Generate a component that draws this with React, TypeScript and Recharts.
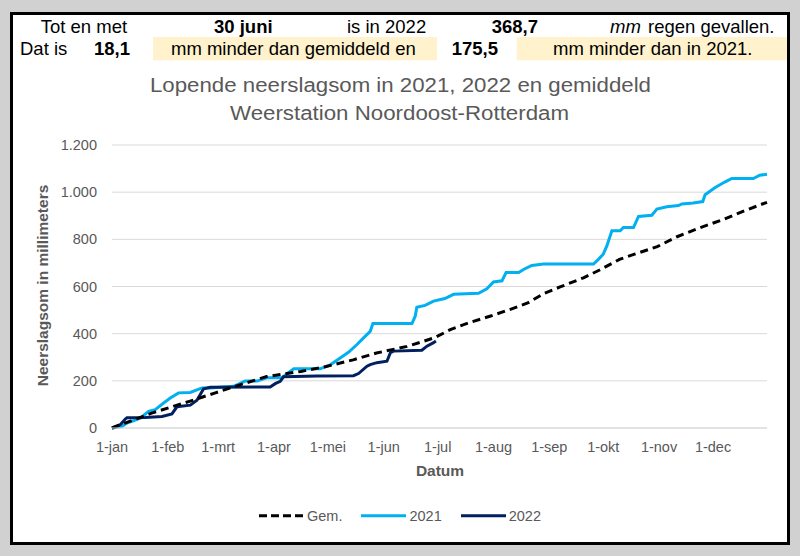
import { LineChart, Line, XAxis, YAxis, CartesianGrid } from "recharts";

const FONT = "'Liberation Sans', Arial, sans-serif";

// x-as: dag van het jaar (0 = 1 januari)
const monthTicks = [0, 31, 59, 90, 120, 151, 181, 212, 243, 273, 304, 334];
const monthLabels = ["1-jan", "1-feb", "1-mrt", "1-apr", "1-mei", "1-jun", "1-jul", "1-aug", "1-sep", "1-okt", "1-nov", "1-dec"];
const yTicks = [0, 200, 400, 600, 800, 1000, 1200];

// gemiddelde lopende som
const gemDays = [0, 22, 43, 57, 71, 86, 105, 119, 134, 147, 164, 179, 188, 199, 210, 221, 231, 240, 249, 262, 271, 282, 290, 303, 314, 327, 340, 351, 364];
const gemValues = [0, 63, 113, 148, 183, 218, 240, 261, 289, 318, 346, 382, 417, 448, 474, 502, 530, 570, 598, 637, 670, 715, 736, 769, 811, 850, 885, 920, 957];

// 2021
const days2021 = [0, 5.6, 8.3, 11, 15.7, 20.3, 24, 28.7, 32.4, 37, 43.5, 50, 54.6, 67.6, 74, 80.6, 86, 94.4, 101, 115.7, 121.3, 126.8, 131.4, 136, 139.8, 143.5, 145, 166.7, 168.5, 169.4, 174, 178.7, 185, 189.8, 203.7, 208.3, 212, 216.7, 219, 226, 228.7, 233.3, 239.8, 267.6, 270.3, 273, 275, 277.8, 282.4, 284.2, 289.8, 292.6, 300, 302.8, 308.3, 314.8, 316.7, 323, 328.3, 329.6, 335.2, 340.8, 344.4, 356.4, 360, 364];
const values2021 = [0, 7, 21, 28, 42, 71, 78, 106, 127, 149, 151, 170, 170, 177, 199, 199, 213, 213, 251, 251, 268, 297, 321, 353, 382, 410, 443, 443, 474, 512, 520, 538, 549, 567, 571, 590, 619, 624, 659, 659, 672, 689, 695, 695, 715, 737, 772, 836, 836, 850, 850, 897, 902, 928, 938, 943, 950, 954, 960, 989, 1020, 1044, 1058, 1058, 1072, 1076];

// 2022 (t/m 30 juni)
const days2022 = [0, 4.6, 7.4, 8.3, 18.5, 27.8, 33.3, 36.1, 43.5, 47.2, 50.9, 54.6, 87.9, 90.7, 93.5, 95.3, 113.9, 134.2, 137, 141.7, 143.5, 147.2, 152.8, 154.7, 156.4, 172.2, 175, 178.7, 180];
const values2022 = [0, 14, 38, 43, 45, 49, 60, 90, 97, 118, 166, 173, 174, 188, 198, 217, 220, 222, 231, 262, 269, 277, 283, 319, 326, 330, 347, 362, 368.7];

const totDatum = "30 juni";
const som2022 = "368,7";
const verschilGem = "18,1";
const verschil2021 = "175,5";

const toPoints = (days: number[], values: number[]) => days.map((d, i) => ({ day: d, mm: values[i] }));

const series = [
  { name: "2021", data: toPoints(days2021, values2021), color: "#00b0f0", dash: undefined as string | undefined },
  { name: "2022", data: toPoints(days2022, values2022), color: "#002060", dash: undefined as string | undefined },
  { name: "Gem.", data: toPoints(gemDays, gemValues), color: "#000000", dash: "8 5" },
];
const legendOrder = ["Gem.", "2021", "2022"];

const formatNl = (v: number) =>
  v >= 1000 ? `${Math.floor(v / 1000)}.${String(v % 1000).padStart(3, "0")}` : String(v);

const axisText = { fill: "#595959", fontSize: 14.5, fontFamily: FONT };

function Legend() {
  return (
    <div style={{ position: "absolute", left: 0, top: 506, width: 800, display: "flex", justifyContent: "center", gap: 19 }}>
      {legendOrder.map((name) => {
        const s = series.find((x) => x.name === name)!;
        return (
          <div key={name} style={{ display: "flex", alignItems: "flex-start", height: 20 }}>
            <svg width={45} height={20}>
              <line x1={0} y1={9.7} x2={45} y2={9.7} stroke={s.color} strokeWidth={3} strokeDasharray={s.dash ? "8 4" : undefined} />
            </svg>
            <span style={{ marginLeft: 3, fontFamily: FONT, fontSize: 14.5, lineHeight: "20px", color: "#595959" }}>{name}</span>
          </div>
        );
      })}
    </div>
  );
}

export default function App() {
  const hdr = { fontFamily: FONT, fontSize: 18.5, fill: "#000" };
  return (
    <div style={{ position: "absolute", left: 0, top: 0, width: 800, height: 556, background: "#d1d1d1", overflow: "hidden" }}>
      <div style={{ position: "absolute", left: 10, top: 12, width: 780, height: 533, border: "3px solid #000", boxSizing: "border-box", background: "#fff" }} />
      <svg width={800} height={556} style={{ position: "absolute", left: 0, top: 0 }}>
        <rect x={153} y={37} width={284} height={23.3} fill="#fff2cc" />
        <rect x={516.7} y={37} width={270.3} height={23.3} fill="#fff2cc" />
        <text x={40.7} y={33} {...hdr}>Tot en met</text>
        <text x={214} y={33} {...hdr} fontWeight="bold">{totDatum}</text>
        <text x={347} y={33} {...hdr}>is in 2022</text>
        <text x={491.7} y={33} {...hdr} fontWeight="bold">{som2022}</text>
        <text x={610} y={33} {...hdr} fontStyle="italic">mm</text>
        <text x={648} y={33} {...hdr}>regen gevallen.</text>
        <text x={20} y={54.7} {...hdr}>Dat is</text>
        <text x={94} y={54.7} {...hdr} fontWeight="bold">{verschilGem}</text>
        <text x={171} y={54.7} {...hdr}>mm minder dan gemiddeld en</text>
        <text x={451.7} y={54.7} {...hdr} fontWeight="bold">{verschil2021}</text>
        <text x={553} y={54.7} {...hdr}>mm minder dan in 2021.</text>

        <text x={150} y={91.7} fontFamily={FONT} fontSize={19.5} fill="#595959" textLength={501} lengthAdjust="spacingAndGlyphs">
          Lopende neerslagsom in 2021, 2022 en gemiddeld
        </text>
        <text x={230} y={120} fontFamily={FONT} fontSize={19.5} fill="#595959" textLength={339} lengthAdjust="spacingAndGlyphs">
          Weerstation Noordoost-Rotterdam
        </text>

        <text transform="translate(48.4,285.5) rotate(-90)" textAnchor="middle" fontFamily={FONT} fontSize={15.5} fontWeight="bold" fill="#595959">
          Neerslagsom in millimeters
        </text>
        <text x={440} y={475.5} textAnchor="middle" fontFamily={FONT} fontSize={15.5} fontWeight="bold" fill="#595959">
          Datum
        </text>
      </svg>
      <div style={{ position: "absolute", left: 0, top: 0 }}>
        <LineChart width={800} height={556} margin={{ top: 145, right: 33, bottom: 98, left: 52 }}>
          <CartesianGrid vertical={false} stroke="#d9d9d9" />
          <XAxis
            type="number"
            dataKey="day"
            domain={[0, 364]}
            ticks={monthTicks}
            interval={0}
            tickFormatter={(v: number) => monthLabels[monthTicks.indexOf(v)]}
            tickLine={false}
            tickSize={0}
            tickMargin={14}
            axisLine={{ stroke: "#d9d9d9" }}
            tick={axisText}
            height={30}
          />
          <YAxis
            type="number"
            domain={[0, 1200]}
            ticks={yTicks}
            interval={0}
            tickFormatter={formatNl}
            axisLine={false}
            tickLine={false}
            tickSize={0}
            tickMargin={15}
            width={60}
            tick={axisText}
          />
          {series.map((s) => (
            <Line
              key={s.name}
              name={s.name}
              data={s.data}
              dataKey="mm"
              type="linear"
              stroke={s.color}
              strokeWidth={3}
              strokeDasharray={s.dash}
              dot={false}
              activeDot={false}
              isAnimationActive={false}
            />
          ))}
        </LineChart>
      </div>
      <Legend />
    </div>
  );
}
